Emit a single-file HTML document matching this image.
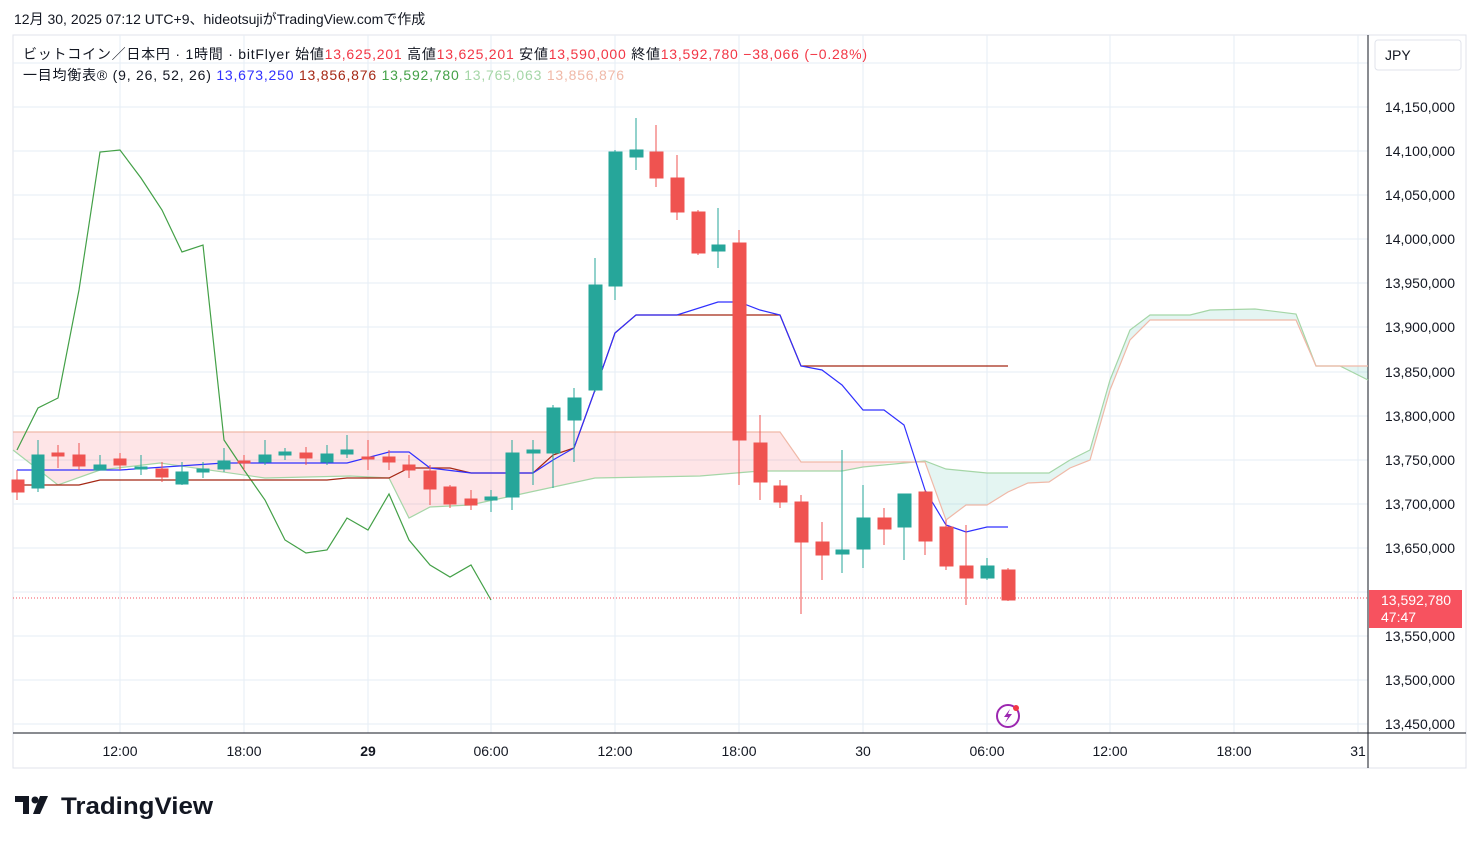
<!DOCTYPE html>
<html><head><meta charset="utf-8"><style>
body{margin:0;background:#fff;font-family:"Liberation Sans","Noto Sans CJK JP",sans-serif;}
</style></head><body>
<svg width="1479" height="843" xmlns="http://www.w3.org/2000/svg" style="position:absolute;left:0;top:0;font-family:'Liberation Sans','Noto Sans CJK JP',sans-serif">
<rect width="1479" height="843" fill="#fff"/>
<text x="14" y="24" font-size="14" fill="#131722">12月 30, 2025 07:12 UTC+9、hideotsujiがTradingView.comで作成</text>
<rect x="13" y="35" width="1453" height="733" fill="none" stroke="#e0e3eb"/>
<g stroke="#e6edf5" stroke-width="1">
<line x1="13" x2="1368" y1="63" y2="63"/><line x1="13" x2="1368" y1="107" y2="107"/><line x1="13" x2="1368" y1="151" y2="151"/><line x1="13" x2="1368" y1="195" y2="195"/><line x1="13" x2="1368" y1="239" y2="239"/><line x1="13" x2="1368" y1="283" y2="283"/><line x1="13" x2="1368" y1="327" y2="327"/><line x1="13" x2="1368" y1="372" y2="372"/><line x1="13" x2="1368" y1="416" y2="416"/><line x1="13" x2="1368" y1="460" y2="460"/><line x1="13" x2="1368" y1="504" y2="504"/><line x1="13" x2="1368" y1="548" y2="548"/><line x1="13" x2="1368" y1="592" y2="592"/><line x1="13" x2="1368" y1="636" y2="636"/><line x1="13" x2="1368" y1="680" y2="680"/><line x1="13" x2="1368" y1="724" y2="724"/>
<line x1="120" x2="120" y1="35" y2="733"/><line x1="244" x2="244" y1="35" y2="733"/><line x1="368" x2="368" y1="35" y2="733"/><line x1="491" x2="491" y1="35" y2="733"/><line x1="615" x2="615" y1="35" y2="733"/><line x1="739" x2="739" y1="35" y2="733"/><line x1="863" x2="863" y1="35" y2="733"/><line x1="987" x2="987" y1="35" y2="733"/><line x1="1110" x2="1110" y1="35" y2="733"/><line x1="1234" x2="1234" y1="35" y2="733"/><line x1="1358" x2="1358" y1="35" y2="733"/>
</g>
<line x1="13" x2="1466" y1="733" y2="733" stroke="#131722"/>
<line x1="1368" x2="1368" y1="35" y2="768" stroke="#131722"/>
<polygon fill="#f7525f" fill-opacity="0.15" points="13,432 780,432 801,462 904,462 925,462 904,461 863,467 842,471 760,471 700,476 595,478 512,496 470,505 430,507 409,518 389,478 350,476 265,478 160,463 100,470 58,485 13,450"/>
<polygon fill="#22ab94" fill-opacity="0.12" points="925,461 946,469 987,473 1049,473 1070,460 1090,450 1110,380 1130,330 1150,315 1190,315 1210,310 1255,309 1296,314 1316,366 1340,366 1368,380 1368,366 1316,366 1296,320 1150,320 1130,340 1110,390 1090,460 1070,468 1049,482 1028,483 1008,492 987,505 966,505 946,520 925,462"/>
<polyline fill="none" stroke="#a5d6a7" stroke-width="1.2" points="13,450 58,485 100,470 160,463 265,478 350,476 389,478 409,518 430,507 470,505 512,496 595,478 700,476 760,471 842,471 863,467 925,461 946,469 987,473 1049,473 1070,460 1090,450 1110,380 1130,330 1150,315 1190,315 1210,310 1255,309 1296,314 1316,366 1340,366 1368,380"/>
<polyline fill="none" stroke="#f0b9a8" stroke-width="1.2" points="13,432 780,432 801,462 904,462 925,462 946,520 966,505 987,505 1008,492 1028,483 1049,482 1070,468 1090,460 1110,390 1130,340 1150,320 1296,320 1316,366 1368,366"/>
<polyline fill="none" stroke="#43a047" stroke-width="1.2" points="17,450 38,408 58,398 79,290 100,152 120,150 141,178 162,210 182,252 203,245 224,440 244,470 265,500 285,540 306,553 327,550 347,518 368,530 389,494 409,540 430,565 450,577 471,565 491,600"/>
<polyline fill="none" stroke="#a52714" stroke-width="1.2" points="17,485 38,485 79,485 100,480 327,480 347,478 389,478 409,468 450,468 471,473 533,473 553,455 574,448 595,390 615,333 636,315 780,315 801,366 1008,366"/>
<polyline fill="none" stroke="#3030ff" stroke-width="1.2" points="17,470 120,470 224,463 347,463 389,452 409,452 430,468 471,473 533,473 553,460 574,448 595,390 615,333 636,315 677,315 718,302 739,302 760,310 780,315 801,366 822,370 842,385 863,410 884,410 904,425 925,490 946,525 966,532 987,527 1008,527"/>
<line x1="13" x2="1368" y1="598" y2="598" stroke="#f7525f" stroke-dasharray="1,2"/>
<g stroke-width="1">
<g stroke="#ef5350" fill="#ef5350">
<line x1="17" x2="17" y1="470" y2="500"/><rect x="12" y="480" width="12" height="12"/>
<line x1="58" x2="58" y1="445" y2="468"/><rect x="52" y="453" width="12" height="3"/>
<line x1="79" x2="79" y1="443" y2="470"/><rect x="73" y="455" width="12" height="11"/>
<line x1="120" x2="120" y1="453" y2="470"/><rect x="114" y="459" width="12" height="6"/>
<line x1="162" x2="162" y1="462" y2="482"/><rect x="156" y="469" width="12" height="8"/>
<line x1="244" x2="244" y1="455" y2="470"/><rect x="238" y="461" width="12" height="2"/>
<line x1="306" x2="306" y1="447" y2="465"/><rect x="300" y="453" width="12" height="5"/>
<line x1="368" x2="368" y1="440" y2="470"/><rect x="362" y="457" width="12" height="2"/>
<line x1="389" x2="389" y1="450" y2="470"/><rect x="383" y="457" width="12" height="5"/>
<line x1="409" x2="409" y1="455" y2="478"/><rect x="403" y="465" width="12" height="5"/>
<line x1="430" x2="430" y1="465" y2="505"/><rect x="424" y="471" width="12" height="18"/>
<line x1="450" x2="450" y1="485" y2="508"/><rect x="444" y="487" width="12" height="17"/>
<line x1="471" x2="471" y1="490" y2="510"/><rect x="465" y="499" width="12" height="6"/>
<line x1="656" x2="656" y1="125" y2="187"/><rect x="650" y="152" width="13" height="26"/>
<line x1="677" x2="677" y1="155" y2="220"/><rect x="671" y="178" width="13" height="34"/>
<line x1="698" x2="698" y1="210" y2="255"/><rect x="692" y="212" width="13" height="41"/>
<line x1="739" x2="739" y1="230" y2="485"/><rect x="733" y="243" width="13" height="197"/>
<line x1="760" x2="760" y1="415" y2="500"/><rect x="754" y="443" width="13" height="39"/>
<line x1="780" x2="780" y1="480" y2="508"/><rect x="774" y="486" width="13" height="16"/>
<line x1="801" x2="801" y1="495" y2="614"/><rect x="795" y="502" width="13" height="40"/>
<line x1="822" x2="822" y1="522" y2="580"/><rect x="816" y="542" width="13" height="13"/>
<line x1="884" x2="884" y1="508" y2="545"/><rect x="878" y="518" width="13" height="11"/>
<line x1="925" x2="925" y1="490" y2="555"/><rect x="919" y="492" width="13" height="49"/>
<line x1="946" x2="946" y1="520" y2="570"/><rect x="940" y="527" width="13" height="39"/>
<line x1="966" x2="966" y1="525" y2="605"/><rect x="960" y="566" width="13" height="12"/>
<line x1="1008" x2="1008" y1="568" y2="601"/><rect x="1002" y="570" width="13" height="30"/>
</g>
<g stroke="#26a69a" fill="#26a69a">
<line x1="38" x2="38" y1="440" y2="492"/><rect x="32" y="455" width="12" height="33"/>
<line x1="100" x2="100" y1="455" y2="470"/><rect x="94" y="465" width="12" height="5"/>
<line x1="141" x2="141" y1="455" y2="475"/><rect x="135" y="467" width="12" height="2"/>
<line x1="182" x2="182" y1="462" y2="485"/><rect x="176" y="472" width="12" height="12"/>
<line x1="203" x2="203" y1="462" y2="478"/><rect x="197" y="469" width="12" height="3"/>
<line x1="224" x2="224" y1="448" y2="472"/><rect x="218" y="461" width="12" height="8"/>
<line x1="265" x2="265" y1="440" y2="465"/><rect x="259" y="455" width="12" height="7"/>
<line x1="285" x2="285" y1="448" y2="460"/><rect x="279" y="452" width="12" height="3"/>
<line x1="327" x2="327" y1="445" y2="465"/><rect x="321" y="454" width="12" height="8"/>
<line x1="347" x2="347" y1="435" y2="458"/><rect x="341" y="450" width="12" height="4"/>
<line x1="491" x2="491" y1="490" y2="512"/><rect x="485" y="497" width="12" height="3"/>
<line x1="512" x2="512" y1="440" y2="510"/><rect x="506" y="453" width="13" height="44"/>
<line x1="533" x2="533" y1="440" y2="485"/><rect x="527" y="450" width="13" height="3"/>
<line x1="553" x2="553" y1="405" y2="488"/><rect x="547" y="408" width="13" height="45"/>
<line x1="574" x2="574" y1="388" y2="462"/><rect x="568" y="398" width="13" height="22"/>
<line x1="595" x2="595" y1="258" y2="392"/><rect x="589" y="285" width="13" height="105"/>
<line x1="615" x2="615" y1="150" y2="300"/><rect x="609" y="152" width="13" height="134"/>
<line x1="636" x2="636" y1="118" y2="170"/><rect x="630" y="150" width="13" height="7"/>
<line x1="718" x2="718" y1="208" y2="268"/><rect x="712" y="245" width="13" height="6"/>
<line x1="842" x2="842" y1="450" y2="573"/><rect x="836" y="550" width="13" height="4"/>
<line x1="863" x2="863" y1="485" y2="568"/><rect x="857" y="518" width="13" height="31"/>
<line x1="904" x2="904" y1="494" y2="560"/><rect x="898" y="494" width="13" height="33"/>
<line x1="987" x2="987" y1="558" y2="580"/><rect x="981" y="566" width="13" height="12"/>
</g></g>
<circle cx="1008" cy="716" r="11" fill="none" stroke="#9c27b0" stroke-width="2"/>
<path d="M1010,709 L1004,717 L1008,717 L1005,723 L1012,714 L1008,714 Z" fill="#9c27b0"/>
<circle cx="1016" cy="708" r="3" fill="#f23645"/>
<text x="23" y="59" font-size="14" fill="#131722" textLength="844" lengthAdjust="spacing">ビットコイン／日本円 · 1時間 · bitFlyer <tspan>始値</tspan><tspan fill="#f23645">13,625,201</tspan> 高値<tspan fill="#f23645">13,625,201</tspan> 安値<tspan fill="#f23645">13,590,000</tspan> 終値<tspan fill="#f23645">13,592,780 −38,066 (−0.28%)</tspan></text>
<text x="23" y="80" font-size="14" fill="#131722" textLength="601" lengthAdjust="spacing">一目均衡表® (9, 26, 52, 26) <tspan fill="#3030ff">13,673,250</tspan> <tspan fill="#a52714">13,856,876</tspan> <tspan fill="#43a047">13,592,780</tspan> <tspan fill="#a5d6a7">13,765,063</tspan> <tspan fill="#f0b9a8">13,856,876</tspan></text>
<rect x="1375" y="40" width="86" height="30" rx="3" fill="#fff" stroke="#e0e3eb"/>
<text x="1385" y="60" font-size="14" fill="#131722">JPY</text>
<g font-size="14" fill="#131722" text-anchor="end">
<text x="1455" y="112">14,150,000</text><text x="1455" y="156">14,100,000</text><text x="1455" y="200">14,050,000</text><text x="1455" y="244">14,000,000</text><text x="1455" y="288">13,950,000</text><text x="1455" y="332">13,900,000</text><text x="1455" y="377">13,850,000</text><text x="1455" y="421">13,800,000</text><text x="1455" y="465">13,750,000</text><text x="1455" y="509">13,700,000</text><text x="1455" y="553">13,650,000</text><text x="1455" y="641">13,550,000</text><text x="1455" y="685">13,500,000</text><text x="1455" y="729">13,450,000</text>
</g>
<rect x="1369" y="590" width="93" height="38" fill="#f7525f"/>
<text x="1381" y="605" font-size="14" fill="#fff">13,592,780</text>
<text x="1381" y="622" font-size="14" fill="#fff">47:47</text>
<g font-size="14" fill="#131722" text-anchor="middle">
<text x="120" y="756">12:00</text><text x="244" y="756">18:00</text><text x="368" y="756" font-weight="bold">29</text><text x="491" y="756">06:00</text><text x="615" y="756">12:00</text><text x="739" y="756">18:00</text><text x="863" y="756">30</text><text x="987" y="756">06:00</text><text x="1110" y="756">12:00</text><text x="1234" y="756">18:00</text><text x="1358" y="756">31</text>
</g>
<path d="M15,796 h14 v18 h-6 v-12 h-8 z" fill="#131722"/><circle cx="35" cy="800" r="3.5" fill="#131722"/><path d="M40,796 h8 l-8,18 h-7 z" fill="#131722"/>
<text x="61" y="814" font-size="24" font-weight="bold" fill="#131722" textLength="152" lengthAdjust="spacingAndGlyphs">TradingView</text>
</svg>
</body></html>
